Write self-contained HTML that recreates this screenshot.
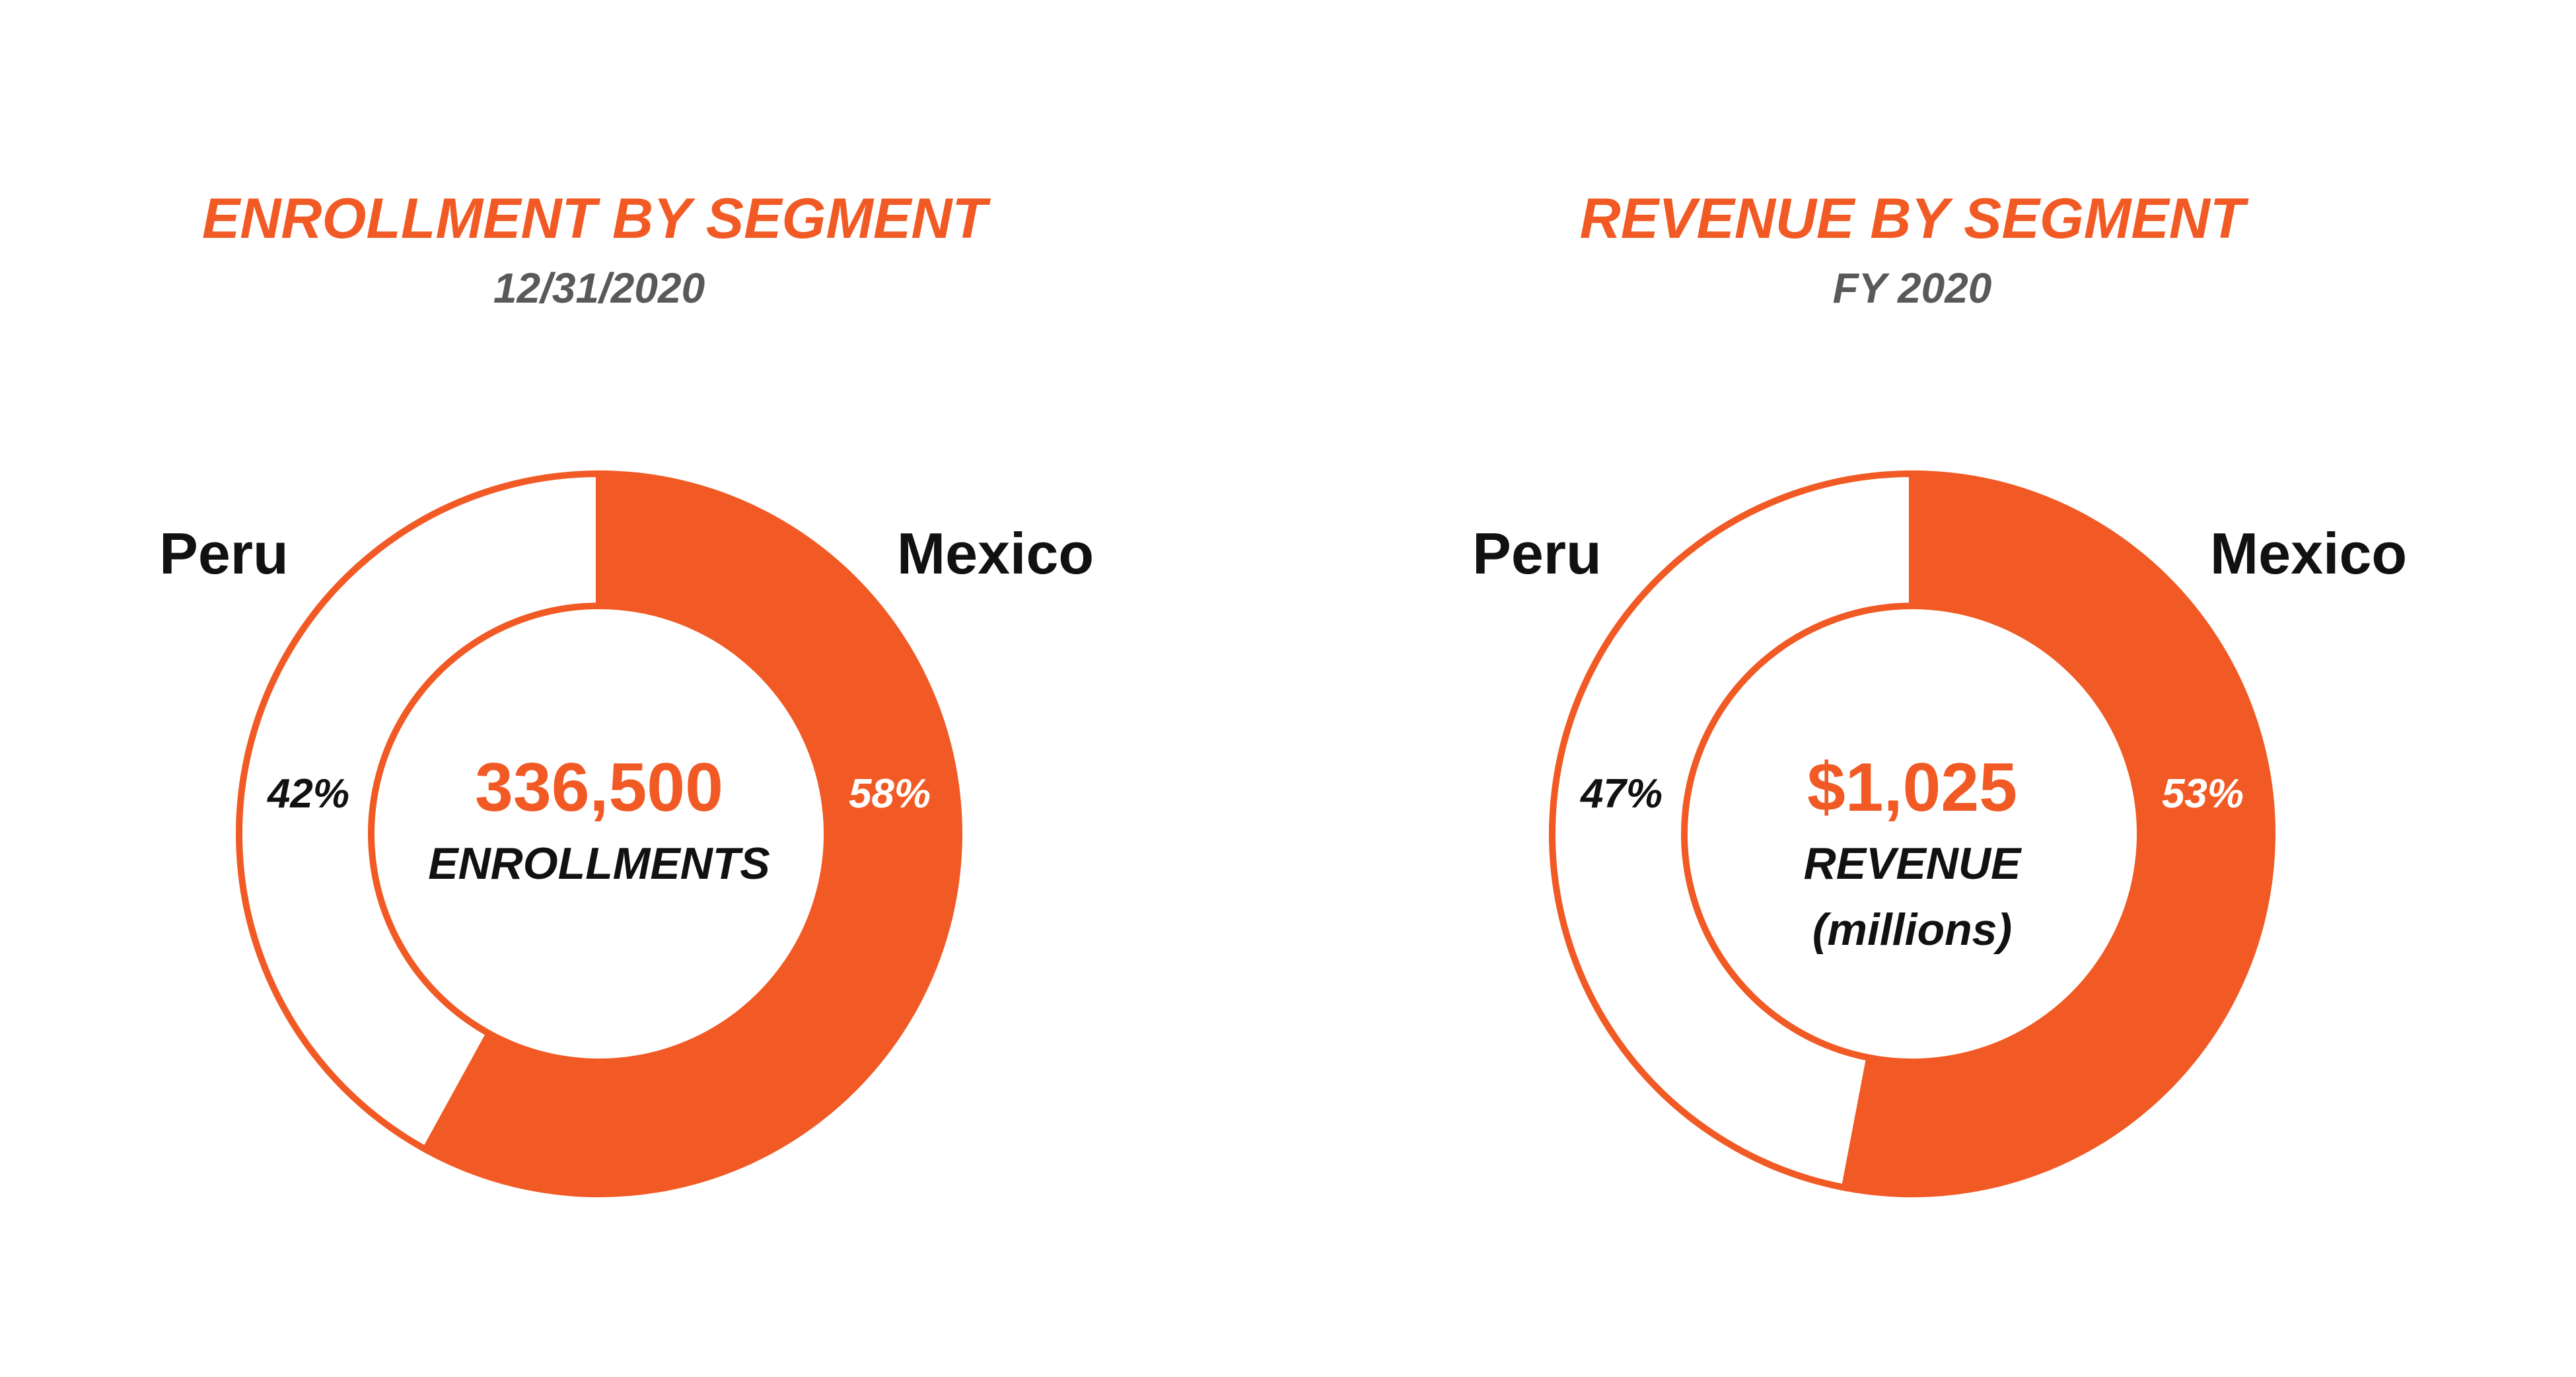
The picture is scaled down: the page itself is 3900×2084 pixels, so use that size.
<!DOCTYPE html>
<html><head><meta charset="utf-8">
<style>
html,body{margin:0;padding:0;background:#fff;}
svg{display:block;font-family:"Liberation Sans",sans-serif;}
</style></head>
<body>
<svg id="chart" width="3900" height="2084" viewBox="0 0 3900 2084" xmlns="http://www.w3.org/2000/svg">
<rect width="3900" height="2084" fill="#fff"/>
<g>
<text x="900" y="360" text-anchor="middle" font-size="86" font-weight="bold" font-style="italic" fill="#F15A24">ENROLLMENT BY SEGMENT</text>
<text x="907" y="458" text-anchor="middle" font-size="64" font-weight="bold" font-style="italic" fill="#58595B">12/31/2020</text>
</g>
<g>
<text x="2895" y="360" text-anchor="middle" font-size="86" font-weight="bold" font-style="italic" fill="#F15A24">REVENUE BY SEGMENT</text>
<text x="2895" y="458" text-anchor="middle" font-size="64" font-weight="bold" font-style="italic" fill="#58595B">FY 2020</text>
</g>
<g id="donuts"></g>
</svg>
<script>
const categories = ["Mexico", "Peru"];
const enrollmentShares = [58, 42];
const revenueShares = [53, 47];
const centerValues = ["336,500", "$1,025"];
const centerCaptions = [["ENROLLMENTS"], ["REVENUE", "(millions)"]];

const NS = "http://www.w3.org/2000/svg";
const ORANGE = "#F15A24";
const g = document.getElementById("donuts");
const RO = 545, RI = 345;

function mk(tag, attrs, parent){
  const e = document.createElementNS(NS, tag);
  for (const k in attrs) e.setAttribute(k, attrs[k]);
  parent.appendChild(e);
  return e;
}
function pt(cx, cy, r, frac){
  const a = frac * 2 * Math.PI - Math.PI/2;
  return [cx + r*Math.cos(a), cy + r*Math.sin(a)];
}
function arcPath(cx, cy, f0, f1){
  const large = (f1 - f0) > 0.5 ? 1 : 0;
  const a = pt(cx,cy,RO,f0), b = pt(cx,cy,RO,f1), c = pt(cx,cy,RI,f1), d = pt(cx,cy,RI,f0);
  return `M${a[0]},${a[1]} A${RO},${RO} 0 ${large} 1 ${b[0]},${b[1]} L${c[0]},${c[1]} A${RI},${RI} 0 ${large} 0 ${d[0]},${d[1]} Z`;
}

function drawDonut(cx, cy, shares, idx, key){
  const grp = mk("g", {}, g);
  
  
  const total = shares.reduce((s,v)=>s+v,0);
  const f = shares[0] / total;
  const peru = mk("path", {d: arcPath(cx,cy,f,1), fill:"#fff", stroke:ORANGE, "stroke-width":10, "stroke-linejoin":"miter"}, grp);
  
  
  const mex = mk("path", {d: arcPath(cx,cy,0,f), fill:ORANGE, stroke:ORANGE, "stroke-width":10}, grp);
  
  
  const mid = (RO+RI)/2;
  const p1 = mk("text", {x: cx+mid-5, y: cy-40, "text-anchor":"middle", "font-size":62, "font-weight":"bold", "font-style":"italic", fill:"#fff"}, grp);
  p1.textContent = shares[0] + "%";
  
  
  const p2 = mk("text", {x: cx-mid+5, y: cy-40, "text-anchor":"middle", "font-size":62, "font-weight":"bold", "font-style":"italic", fill:"#111"}, grp);
  p2.textContent = shares[1] + "%";
  
  
  const l1 = mk("text", {x: cx+600, y: 868, "text-anchor":"middle", "font-size":88, "font-weight":"bold", fill:"#111"}, grp);
  l1.textContent = categories[0];
  
  
  const l2 = mk("text", {x: cx-568, y: 868, "text-anchor":"middle", "font-size":88, "font-weight":"bold", fill:"#111"}, grp);
  l2.textContent = categories[1];
  
  
  const cv = mk("text", {x: cx, y: cy-35, "text-anchor":"middle", "font-size":104, "font-weight":"bold", fill:ORANGE}, grp);
  cv.textContent = centerValues[idx];
  
  
  centerCaptions[idx].forEach((t,i)=>{
    const c = mk("text", {x: cx, y: cy+68+i*100, "text-anchor":"middle", "font-size":68, "font-style":"italic", "font-weight": "bold", fill:"#111"}, grp);
    c.textContent = t;
    
    
  });
}
drawDonut(907, 1262, enrollmentShares, 0, "enrollment");
drawDonut(2895, 1262, revenueShares, 1, "revenue");
</script>
</body></html>
